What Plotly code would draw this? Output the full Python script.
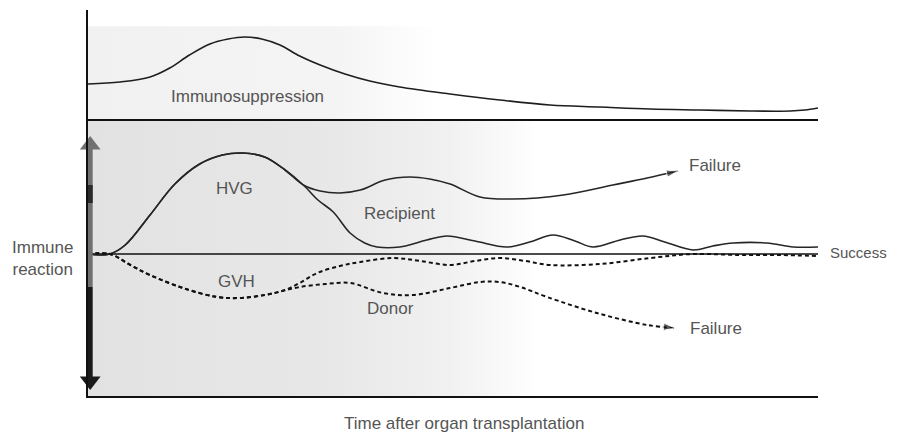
import plotly.graph_objects as go

# ---------------- data (time 0-100, arbitrary units) ----------------
supp_t = [0, 4.4, 8.5, 11.2, 13.9, 16.7, 19.2, 21.5, 23.8, 26.3, 29.0, 31.8, 35.2, 38.6, 42.7,
          49.6, 56.4, 63.3, 70.1, 77.0, 83.8, 90.7, 96.2, 98.2, 100]
supp_v = [3.5, 3.7, 4.2, 5.1, 6.4, 7.5, 8.0, 8.2, 8.0, 7.4, 6.3, 5.4, 4.5, 3.8, 3.2,
          2.5, 1.9, 1.4, 1.2, 1.0, 0.9, 0.8, 0.8, 0.9, 1.1]

hvg_t = [0, 3.0, 5.1, 8.5, 11.9, 15.3, 18.4, 21.2, 24.2, 27.0, 29.5]
hvg_r = [0, 0, 0.9, 3.9, 7.0, 9.0, 9.9, 10.1, 9.7, 8.4, 6.9]

rec_fail_t = [31.8, 34.5, 37.3, 40.7, 44.1, 46.8, 49.6, 53.7, 58.2, 65.1, 71.9, 76.6, 80.8]
rec_fail_r = [6.3, 6.1, 6.4, 7.4, 7.7, 7.5, 7.0, 5.7, 5.5, 5.9, 6.9, 7.6, 8.3]

rec_succ_t = [31.5, 33.6, 35.9, 37.9, 39.6, 42.7, 46.4, 49.2, 53.0, 57.4, 60.5, 63.7, 66.7, 69.2,
              72.9, 76.0, 79.0, 82.9, 85.6, 88.4, 93.0, 96.6, 100]
rec_succ_r = [5.4, 4.2, 2.1, 1.1, 0.7, 0.7, 1.4, 1.8, 1.3, 0.7, 1.2, 1.9, 1.3, 0.7,
              1.4, 1.8, 1.2, 0.4, 0.8, 1.1, 1.1, 0.7, 0.7]

gvh_t = [0, 3.0, 5.8, 8.5, 13.0, 17.7, 20.8, 24.2, 26.6]
gvh_r = [0, 0, -1.1, -2.1, -3.4, -4.3, -4.4, -4.1, -3.7]

don_succ_t = [29.0, 31.4, 34.5, 37.3, 41.8, 45.5, 49.6, 53.0, 56.4, 59.9, 63.3, 70.1, 77.0, 82.9, 89.3, 94.8, 100]
don_succ_r = [-2.9, -1.9, -1.2, -0.8, -0.4, -0.7, -1.1, -0.7, -0.4, -0.7, -1.1, -1.0, -0.4, 0, -0.1, -0.1, -0.2]

don_fail_t = [29.0, 32.5, 35.9, 40.4, 44.5, 49.6, 53.7, 56.4, 59.2, 62.9, 69.7, 76.6, 80.4]
don_fail_r = [-3.3, -3.0, -2.9, -3.9, -4.1, -3.4, -2.8, -2.8, -3.3, -4.3, -5.9, -7.1, -7.4]

baseline_t = [0, 100]
baseline_r = [0, 0]

# double arrow on the reaction axis
arrow_t = 0.3
arrow_gray = [10.9, -3.3]
arrow_dark = [6.9, 5.1]
arrow_black = [-3.3, -12.7]

shade_lower = [0, 62]      # time span of the grey background (lower panel)
shade_upper = [0, 48]

# ---------------- figure ----------------
FONT = "Liberation Sans, Arial, Helvetica, sans-serif"
TXT = "#555555"
ylow = [-14.2, 13.5]
yup = [0, 10.9]

fig = go.Figure()

# background shading (horizontal gradient)
fig.add_trace(go.Scatter(
    x=[shade_lower[0], shade_lower[1], shade_lower[1], shade_lower[0], shade_lower[0]],
    y=[ylow[0], ylow[0], ylow[1], ylow[1], ylow[0]],
    mode="lines", line=dict(width=0), fill="toself",
    fillgradient=dict(type="horizontal",
                      colorscale=[[0, "#e2e2e2"], [0.55, "#e8e8e8"], [0.8, "#f1f1f1"], [1, "#ffffff"]]),
    hoverinfo="skip", showlegend=False))
fig.add_trace(go.Scatter(
    x=[shade_upper[0], shade_upper[1], shade_upper[1], shade_upper[0], shade_upper[0]],
    y=[yup[0], yup[0], yup[1] * 0.85, yup[1] * 0.85, yup[0]],
    mode="lines", line=dict(width=0), fill="toself",
    fillgradient=dict(type="horizontal",
                      colorscale=[[0, "#f1f1f1"], [0.7, "#f4f4f4"], [1, "#ffffff"]]),
    hoverinfo="skip", showlegend=False, xaxis="x2", yaxis="y2"))

# zero line of the immune reaction
fig.add_trace(go.Scatter(x=baseline_t, y=baseline_r, mode="lines",
                         line=dict(color="#111111", width=1.3), showlegend=False, hoverinfo="skip"))

# immunosuppression
fig.add_trace(go.Scatter(x=supp_t, y=supp_v, mode="lines",
                         line=dict(color="#1e1e1e", width=1.6, shape="spline"),
                         showlegend=False, xaxis="x2", yaxis="y2"))

# recipient (HVG) curves
SOLID = "#262626"
fig.add_trace(go.Scatter(x=hvg_t + rec_fail_t, y=hvg_r + rec_fail_r, mode="lines",
                         line=dict(color=SOLID, width=1.6, shape="spline"), showlegend=False))
fig.add_trace(go.Scatter(x=hvg_t + rec_succ_t, y=hvg_r + rec_succ_r, mode="lines",
                         line=dict(color=SOLID, width=1.6, shape="spline"), showlegend=False))
fig.add_trace(go.Scatter(x=rec_fail_t[-2:], y=rec_fail_r[-2:], mode="markers",
                         marker=dict(symbol="arrow", angleref="previous", size=[0, 12], color=SOLID),
                         showlegend=False))

# donor (GVH) curves
DASH = "#111111"
fig.add_trace(go.Scatter(x=gvh_t + don_succ_t, y=gvh_r + don_succ_r, mode="lines",
                         line=dict(color=DASH, width=2, dash="4px,3px", shape="spline"), showlegend=False))
fig.add_trace(go.Scatter(x=gvh_t + don_fail_t, y=gvh_r + don_fail_r, mode="lines",
                         line=dict(color=DASH, width=2, dash="4px,3px", shape="spline"), showlegend=False))
fig.add_trace(go.Scatter(x=don_fail_t[-2:], y=don_fail_r[-2:], mode="markers",
                         marker=dict(symbol="arrow", angleref="previous", size=[0, 12], color=DASH),
                         showlegend=False))

# double arrow
fig.add_trace(go.Scatter(x=[arrow_t, arrow_t], y=arrow_gray, mode="lines",
                         line=dict(color="#707070", width=5), showlegend=False, cliponaxis=False))
fig.add_trace(go.Scatter(x=[arrow_t, arrow_t], y=arrow_dark, mode="lines",
                         line=dict(color="#2a2a2a", width=5), showlegend=False, cliponaxis=False))
fig.add_trace(go.Scatter(x=[arrow_t, arrow_t], y=arrow_black, mode="lines",
                         line=dict(color="#1a1a1a", width=5), showlegend=False, cliponaxis=False))
fig.add_trace(go.Scatter(x=[arrow_t], y=[arrow_gray[0]], mode="markers",
                         marker=dict(symbol="triangle-up", size=18, color="#707070"),
                         showlegend=False, cliponaxis=False))
fig.add_trace(go.Scatter(x=[arrow_t], y=[arrow_black[1]], mode="markers",
                         marker=dict(symbol="triangle-down", size=18, color="#1a1a1a"),
                         showlegend=False, cliponaxis=False))

ann = []
def lab(text, x, y, xref="x", yref="y", xanchor="center", size=17, align="center"):
    ann.append(dict(text=text, x=x, y=y, xref=xref, yref=yref, xanchor=xanchor, yanchor="middle",
                    showarrow=False, align=align, font=dict(family=FONT, size=size, color=TXT)))

lab("Immunosuppression", 21.8, 2.3, xref="x2", yref="y2")
lab("HVG", 20.1, 6.6)
lab("Recipient", 42.7, 4.1)
lab("GVH", 20.4, -2.7)
lab("Donor", 41.5, -5.4)
lab("Failure", 85.9, 8.9)
lab("Failure", 86.0, -7.4)
lab("Success", 1.0137, 0.2, xref="paper", xanchor="left", size=15)
lab("Immune<br>reaction", -0.063, -0.45, xref="paper")
lab("Time after organ transplantation", 0.515, -0.0725, xref="paper", yref="paper", size=17)

axis_common = dict(showgrid=False, showticklabels=False, ticks="", fixedrange=True)
split = 0.7176
# the page body adds an 8px offset, so the figure is 8px smaller with 8px less left/top margin
fig.update_layout(
    width=890, height=427,
    margin=dict(l=80, r=80, t=2, b=39),
    paper_bgcolor="white", plot_bgcolor="rgba(0,0,0,0)",
    xaxis=dict(range=[0, 100], domain=[0, 1], anchor="y", showline=True, linecolor="#111",
               linewidth=1.5, zeroline=False, **axis_common),
    yaxis=dict(range=ylow, domain=[0, split], anchor="x", showline=True, linecolor="#111",
               linewidth=1.5, zeroline=False, **axis_common),
    xaxis2=dict(range=[0, 100], domain=[0, 1], anchor="y2", showline=True, linecolor="#111",
                linewidth=1.6, zeroline=False, **axis_common),
    yaxis2=dict(range=yup, domain=[split, 1], anchor="x2", showline=True, linecolor="#111",
                linewidth=1.5, zeroline=False, **axis_common),
    annotations=ann,
)

fig.write_html("out.html")
